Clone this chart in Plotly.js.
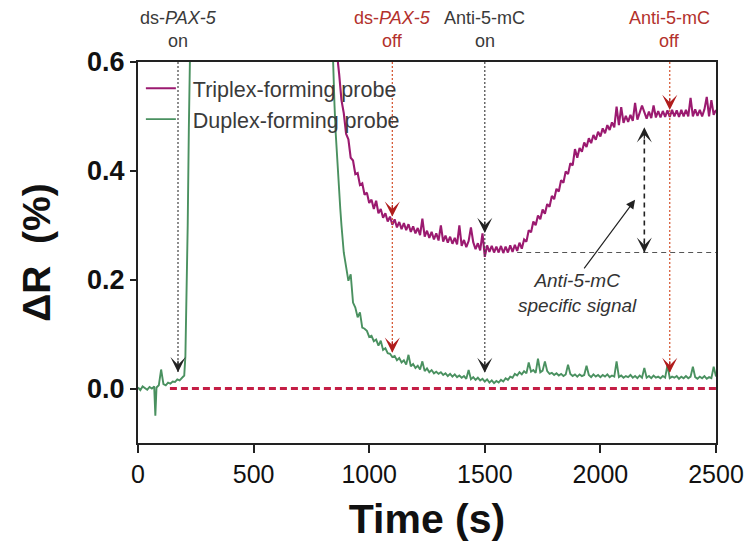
<!DOCTYPE html>
<html><head><meta charset="utf-8">
<script src="https://cdn.plot.ly/plotly-3.0.1.min.js"></script>
<style>html,body{margin:0;padding:0;background:#fff}#chart{width:751px;height:545px}</style>
</head><body><div id="chart"></div>
<script>
// ---- Duplex-forming probe (green) ----
const duplexTime = [
0,10,20,30,40,50,60,70,75,80,90,100,110,120,130,140,150,160,170,180,190,200,205,210,215,220,225,230,
838,845,850,855,860,865,870,875,880,885,
890,900,910,920,930,940,950,960,970,980,
990,1000,1010,1020,1030,1040,1050,1060,1070,1080,
1090,1100,1110,1120,1130,1140,1150,1160,1170,1180,
1190,1200,1210,1220,1230,1240,1250,1260,1270,1280,
1290,1300,1310,1320,1330,1340,1350,1360,1370,1380,
1390,1400,1410,1420,1430,1440,1450,1460,1470,1480,
1490,1500,1510,1520,1530,1540,1550,1560,1570,1580,
1590,1600,1610,1620,1630,1640,1650,1660,1670,1680,
1690,1700,1710,1720,1730,1740,1750,1760,1770,1780,
1790,1800,1810,1820,1830,1840,1850,1860,1870,1880,
1890,1900,1910,1920,1930,1940,1950,1960,1970,1980,
1990,2000,2010,2020,2030,2040,2050,2060,2070,2080,
2090,2100,2110,2120,2130,2140,2150,2160,2170,2180,
2190,2200,2210,2220,2230,2240,2250,2260,2270,2280,
2290,2300,2310,2320,2330,2340,2350,2360,2370,2380,
2390,2400,2410,2420,2430,2440,2450,2460,2470,2480,
2490,2500];
const duplexValue = [
0.002,-0.003,0.004,0.001,-0.002,0.003,0.000,0.004,-0.050,0.002,0.006,0.035,0.008,0.006,0.011,0.009,0.013,0.012,0.017,0.015,0.020,0.024,0.060,0.160,0.300,0.480,0.620,0.750,
0.680,0.570,0.520,0.470,0.430,0.400,0.360,0.330,0.300,0.270,
0.250,0.224,0.198,0.210,0.158,0.149,0.131,0.140,0.112,0.110,
0.106,0.095,0.097,0.087,0.090,0.079,0.088,0.071,0.074,0.065,
0.064,0.058,0.060,0.052,0.056,0.048,0.052,0.044,0.062,0.041,
0.045,0.038,0.042,0.035,0.050,0.032,0.037,0.030,0.034,0.028,
0.031,0.027,0.030,0.025,0.028,0.023,0.027,0.022,0.026,0.021,
0.024,0.020,0.023,0.018,0.034,0.017,0.021,0.016,0.020,0.015,
0.018,0.013,0.017,0.011,0.015,0.010,0.014,0.011,0.016,0.013,
0.019,0.016,0.022,0.020,0.027,0.024,0.030,0.026,0.032,0.028,
0.048,0.031,0.034,0.029,0.055,0.030,0.033,0.050,0.032,0.027,
0.029,0.025,0.028,0.024,0.027,0.023,0.026,0.044,0.027,0.023,
0.026,0.022,0.026,0.023,0.025,0.042,0.025,0.021,0.026,0.022,
0.025,0.021,0.025,0.022,0.026,0.021,0.024,0.022,0.050,0.021,
0.024,0.020,0.023,0.021,0.025,0.020,0.023,0.019,0.024,0.020,
0.038,0.020,0.023,0.019,0.024,0.020,0.022,0.019,0.023,0.020,
0.043,0.019,0.022,0.020,0.023,0.018,0.022,0.019,0.023,0.019,
0.022,0.040,0.021,0.018,0.022,0.019,0.023,0.018,0.021,0.019,
0.040,0.022];

// ---- Triplex-forming probe (magenta) ----
const triplexTime = [
860,865,
870,880,890,900,910,920,930,940,950,960,
970,980,990,1000,1010,1020,1030,1040,1050,1060,
1070,1080,1090,1100,1110,1120,1130,1140,1150,1160,
1170,1180,1190,1200,1210,1220,1230,1240,1250,1260,
1270,1280,1290,1300,1310,1320,1330,1340,1350,1360,
1370,1380,1390,1400,1410,1420,1430,1440,1450,1460,
1470,1480,1490,1500,1510,1520,1530,1540,1550,1560,
1570,1580,1590,1600,1610,1620,1630,1640,1650,1660,
1670,1680,1690,1700,1710,1720,1730,1740,1750,1760,
1770,1780,1790,1800,1810,1820,1830,1840,1850,1860,
1870,1880,1890,1900,1910,1920,1930,1940,1950,1960,
1970,1980,1990,2000,2010,2020,2030,2040,2050,2060,
2070,2080,2090,2100,2110,2120,2130,2140,2150,2160,
2170,2180,2190,2200,2210,2220,2230,2240,2250,2260,
2270,2280,2290,2300,2310,2320,2330,2340,2350,2360,
2370,2380,2390,2400,2410,2420,2430,2440,2450,2460,
2470,2480,2490,2500];
const triplexValue = [
0.660,0.598,
0.578,0.530,0.506,0.468,0.458,0.424,0.419,0.394,0.396,0.374,
0.377,0.356,0.360,0.341,0.347,0.330,0.345,0.322,0.330,0.314,
0.322,0.307,0.316,0.301,0.311,0.296,0.306,0.293,0.304,0.291,
0.302,0.288,0.298,0.285,0.295,0.282,0.312,0.279,0.290,0.277,
0.288,0.274,0.285,0.272,0.300,0.270,0.281,0.268,0.279,0.266,
0.277,0.265,0.300,0.262,0.273,0.260,0.271,0.296,0.269,0.256,
0.267,0.254,0.285,0.242,0.263,0.251,0.262,0.250,0.261,0.250,
0.262,0.249,0.261,0.250,0.263,0.251,0.264,0.253,0.268,0.257,
0.274,0.270,0.291,0.287,0.307,0.300,0.318,0.311,0.329,0.321,
0.339,0.334,0.354,0.348,0.367,0.362,0.383,0.378,0.399,0.394,
0.414,0.410,0.440,0.424,0.442,0.435,0.452,0.444,0.460,0.451,
0.466,0.457,0.472,0.463,0.478,0.469,0.484,0.475,0.489,0.480,
0.518,0.484,0.517,0.488,0.501,0.490,0.503,0.492,0.525,0.494,
0.507,0.520,0.508,0.496,0.509,0.497,0.520,0.498,0.510,0.498,
0.510,0.499,0.511,0.499,0.512,0.500,0.511,0.499,0.512,0.500,
0.512,0.500,0.534,0.500,0.513,0.501,0.512,0.500,0.513,0.536,
0.500,0.530,0.503,0.512];

// ---- Injection events ----
const eventTimes = [173, 1100, 1500, 2300];
const eventNames = ['ds-<i>PAX-5</i>', 'ds-<i>PAX-5</i>', 'Anti-5-mC', 'Anti-5-mC'];
const eventStates = ['on', 'off', 'on', 'off'];
const eventTextColors = ['#3a3a3a', '#b3312c', '#3a3a3a', '#b3312c'];
const eventLineColors = ['#444444', '#d4502a', '#444444', '#d4502a'];
const eventLineEnds = [0.030, 0.066, 0.029, 0.029];

// arrow tips on the traces
const arrowTimes = [173, 1100, 1100, 1500, 1500, 2300, 2300];
const arrowValues = [0.030, 0.316, 0.066, 0.286, 0.029, 0.512, 0.029];
const arrowColors = ['#222222', '#b01c1c', '#b01c1c', '#222222', '#222222', '#b01c1c', '#b01c1c'];

// specific signal annotation
const signalBaseline = 0.25, signalPlateau = 0.48, signalTime = 2190, baselineStart = 1640;
const noteText = '<i>Anti-5-mC<br>specific signal</i>';
const notePos = [1900, 0.175];
const noteArrowFrom = [1925, 0.218], noteArrowTo = [2150, 0.347];
const zeroLineStart = 138;

const seriesNames = ['\u00a0\u00a0Triplex-forming probe', '\u00a0\u00a0Duplex-forming probe'];

const FONT = 'Liberation Sans, Arial, Helvetica, sans-serif';

const traces = [
  {x: triplexTime, y: triplexValue, type: 'scatter', mode: 'lines', name: seriesNames[0],
   line: {color: '#9b1a70', width: 2.1}},
  {x: duplexTime, y: duplexValue, type: 'scatter', mode: 'lines', name: seriesNames[1],
   line: {color: '#4a9160', width: 1.9}}
];

const shapes = [];
const annotations = [];

// zero baseline (red dashed)
shapes.push({type: 'line', xref: 'x', yref: 'y', x0: zeroLineStart, x1: 2500, y0: 0, y1: 0,
  line: {color: '#c41e45', width: 3, dash: '7px,4px'}, layer: 'above'});

eventTimes.forEach((t, i) => {
  shapes.push({type: 'line', xref: 'x', yref: 'y', x0: t, x1: t, y0: 0.6, y1: eventLineEnds[i],
    line: {color: eventLineColors[i], width: 1.2, dash: '2px,2px'}});
  annotations.push({xref: 'x', yref: 'paper', x: t, y: 1.1155, text: eventNames[i], showarrow: false,
    xanchor: 'center', yanchor: 'middle', font: {family: FONT, size: 18, color: eventTextColors[i]}});
  annotations.push({xref: 'x', yref: 'paper', x: t, y: 1.055, text: eventStates[i], showarrow: false,
    xanchor: 'center', yanchor: 'middle', font: {family: FONT, size: 18, color: eventTextColors[i]}});
});

arrowTimes.forEach((t, i) => {
  annotations.push({xref: 'x', yref: 'y', x: t, y: arrowValues[i], text: '', showarrow: true,
    ax: 0, ay: -13, arrowhead: 3, arrowsize: 2.1, arrowwidth: 1.2, arrowcolor: arrowColors[i], standoff: 0});
});

// baseline dashed line and double arrow
shapes.push({type: 'line', xref: 'x', yref: 'y', x0: baselineStart, x1: 2500, y0: signalBaseline, y1: signalBaseline,
  line: {color: '#555555', width: 1.2, dash: '5px,4px'}});
shapes.push({type: 'line', xref: 'x', yref: 'y', x0: signalTime, x1: signalTime, y0: signalBaseline, y1: signalPlateau,
  line: {color: '#222222', width: 1.6, dash: '5px,4px'}});
annotations.push({xref: 'x', yref: 'y', x: signalTime, y: signalPlateau, text: '', showarrow: true,
  ax: 0, ay: 13, arrowhead: 3, arrowsize: 2.1, arrowwidth: 1.2, arrowcolor: '#222222', standoff: 0});
annotations.push({xref: 'x', yref: 'y', x: signalTime, y: signalBaseline, text: '', showarrow: true,
  ax: 0, ay: -13, arrowhead: 3, arrowsize: 2.1, arrowwidth: 1.2, arrowcolor: '#222222', standoff: 0});
annotations.push({xref: 'x', yref: 'y', x: noteArrowTo[0], y: noteArrowTo[1], axref: 'x', ayref: 'y',
  ax: noteArrowFrom[0], ay: noteArrowFrom[1], text: '', showarrow: true,
  arrowhead: 2, arrowsize: 1.5, arrowwidth: 1.2, arrowcolor: '#222222', standoff: 0});
annotations.push({xref: 'x', yref: 'y', x: notePos[0], y: notePos[1], text: noteText, showarrow: false,
  xanchor: 'center', yanchor: 'middle', font: {family: FONT, size: 19, color: '#333333'}});

const layout = {
  width: 751, height: 545,
  margin: {l: 138, r: 35, t: 62, b: 102},
  paper_bgcolor: '#ffffff', plot_bgcolor: '#ffffff',
  font: {family: FONT, color: '#111111'},
  showlegend: true,
  legend: {x: 0.005, y: 0.985, xanchor: 'left', yanchor: 'top', bgcolor: 'rgba(0,0,0,0)',
    font: {family: FONT, size: 21.5, color: '#3a3a3a'}, itemwidth: 30, tracegroupgap: 0},
  xaxis: {
    range: [0, 2500], tickvals: [0, 500, 1000, 1500, 2000, 2500], showgrid: false, zeroline: false,
    showline: true, linecolor: '#222222', linewidth: 2, mirror: true,
    ticks: 'outside', ticklen: 8, tickwidth: 2, tickcolor: '#222222',
    tickfont: {family: FONT, size: 25, color: '#111111'},
    title: {text: 'Time (s)', font: {family: FONT, size: 41, weight: 'bold', color: '#111111'}, standoff: 17},
    automargin: false
  },
  yaxis: {
    range: [-0.1, 0.6], tickvals: [0, 0.2, 0.4, 0.6], tickformat: '.1f', showgrid: false, zeroline: false,
    showline: true, linecolor: '#222222', linewidth: 2, mirror: true,
    ticks: 'outside', ticklen: 6, tickwidth: 2, tickcolor: '#222222',
    tickfont: {family: FONT, size: 27, weight: 'bold', color: '#111111'},
    title: {text: 'ΔR  (%)', font: {family: FONT, size: 39, weight: 'bold', color: '#111111'}, standoff: 24},
    automargin: false
  },
  shapes: shapes,
  annotations: annotations
};

Plotly.newPlot('chart', traces, layout, {displayModeBar: false, staticPlot: true});
</script>
</body></html>
